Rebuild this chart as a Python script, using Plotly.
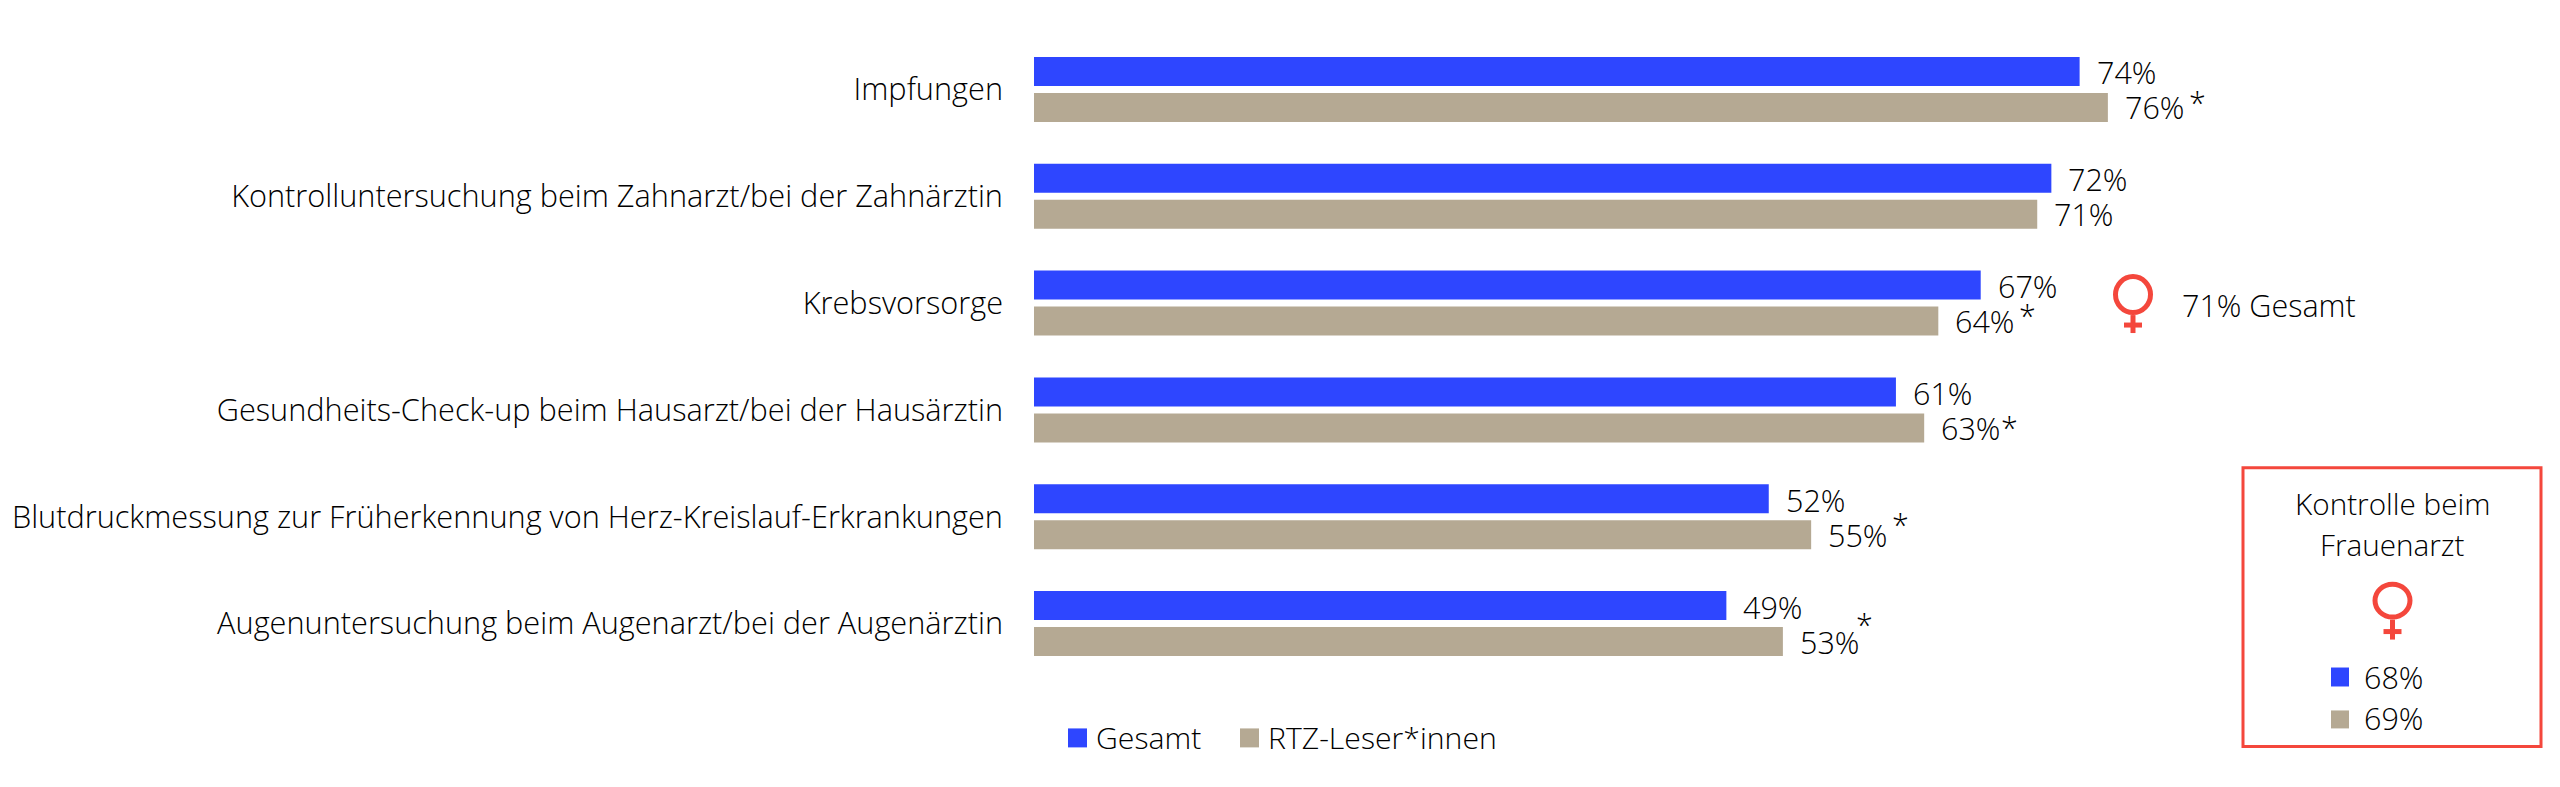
import plotly.graph_objects as go

categories = ["Impfungen", "Kontrolluntersuchung beim Zahnarzt/bei der Zahnärztin", "Krebsvorsorge",
              "Gesundheits-Check-up beim Hausarzt/bei der Hausärztin",
              "Blutdruckmessung zur Früherkennung von Herz-Kreislauf-Erkrankungen",
              "Augenuntersuchung beim Augenarzt/bei der Augenärztin"]
gesamt = [74, 72, 67, 61, 52, 49]
rtz = [76, 71, 64, 63, 55, 53]
series_names = ["Gesamt", "RTZ-Leser*innen"]
frauenarzt = [68, 69]
krebs_frauen = 71
BLUE, TAN, RED, INK = "#2e46ff", "#b5a993", "#f4473c", "#000000"
FONT = "Open Sans"
FS = 30.5

PAGE = 8  # browser body margin
W, H = 2552, 779
L, T, PW, PH = 1034 - PAGE, 35.5 - PAGE, 1518, 642
def px(x): return (x - PAGE - L) / PW
def py(y): return (T + PH - (y - PAGE)) / PH

fig = go.Figure()
fig.add_bar(name=series_names[0], y=categories, x=gesamt, orientation="h", marker=dict(color=BLUE, line_width=0))
fig.add_bar(name=series_names[1], y=categories, x=rtz, orientation="h", marker=dict(color=TAN, line_width=0))

def note(text, x, y, anchor="left", size=FS):
    fig.add_annotation(text=text, x=px(x), y=py(y), xref="paper", yref="paper", showarrow=False,
                       xanchor=anchor, yanchor="middle", font=dict(size=size, color=INK, family=FONT, weight=300))

for cat, a, b in zip(categories, gesamt, rtz):
    for v, sh in ((a, 17), (b, -18)):
        fig.add_annotation(text=f"{v}%", x=v, y=cat, xref="x", yref="y", showarrow=False, xanchor="left",
                           yanchor="middle", xshift=15, yshift=sh,
                           font=dict(size=FS, color=INK, family=FONT, weight=300))

# significance asterisks: (row, x offset, y offset)
for i, xs, ys in [(0, 90, -13), (2, 89, -12), (3, 85, -17), (4, 89, -7), (5, 82, 0)]:
    fig.add_annotation(text="*", x=rtz[i], y=categories[i], xref="x", yref="y", showarrow=False, xanchor="center",
                       yanchor="middle", xshift=xs, yshift=ys,
                       font=dict(size=FS, color=INK, family=FONT, weight=300))

def female(cx, top, bottom_circle, end, cross_y):
    r = 20
    fig.add_shape(type="circle", xref="paper", yref="paper", x0=px(cx - r + 2.5), x1=px(cx + r - 2.5),
                  y0=py(bottom_circle - 2.5), y1=py(top + 2.5), line=dict(color=RED, width=5))
    fig.add_shape(type="line", xref="paper", yref="paper", x0=px(cx), x1=px(cx), y0=py(bottom_circle), y1=py(end),
                  line=dict(color=RED, width=5))
    fig.add_shape(type="line", xref="paper", yref="paper", x0=px(cx - 9), x1=px(cx + 9), y0=py(cross_y), y1=py(cross_y),
                  line=dict(color=RED, width=5))

def square(x0, y0, x1, y1, color):
    fig.add_shape(type="rect", xref="paper", yref="paper", x0=px(x0), x1=px(x1), y0=py(y1), y1=py(y0),
                  fillcolor=color, line_width=0)

female(2133, 274, 315, 333, 325)
note(f"{krebs_frauen}% Gesamt", 2180, 305)

square(1068, 729, 1087, 748, BLUE)
note(series_names[0], 1094, 738, size=30.2)
square(1240, 729, 1259, 748, TAN)
note(series_names[1], 1266, 738, size=30.2)

fig.add_shape(type="rect", xref="paper", yref="paper", x0=px(2243), x1=px(2541), y0=py(747), y1=py(468),
              line=dict(color=RED, width=3), fillcolor="rgba(0,0,0,0)")
note("Kontrolle beim", 2392.5, 504, "center", 29.7)
note("Frauenarzt", 2392.5, 545, "center", 29.7)
female(2392.5, 582, 620, 640, 632)
square(2331, 668, 2349, 687, BLUE)
note(f"{frauenarzt[0]}%", 2362, 677)
square(2331, 711, 2349, 729, TAN)
note(f"{frauenarzt[1]}%", 2362, 719)

fig.update_layout(width=W, height=H, barmode="group", bargap=0.327, bargroupgap=0.194, showlegend=False,
                  paper_bgcolor="white", plot_bgcolor="white",
                  margin=dict(l=L, r=W - L - PW, t=T, b=H - T - PH, autoexpand=False),
                  font=dict(family=FONT, color=INK, size=FS))
fig.update_xaxes(range=[0, PW / 14.13], visible=False)
fig.update_yaxes(autorange=False, range=[5.5, -0.5], showline=False, showgrid=False, zeroline=False, ticks="",
                 ticklabelstandoff=30, tickfont=dict(size=30.7, family=FONT, color=INK, weight=300))
fig.write_html("out.html")
